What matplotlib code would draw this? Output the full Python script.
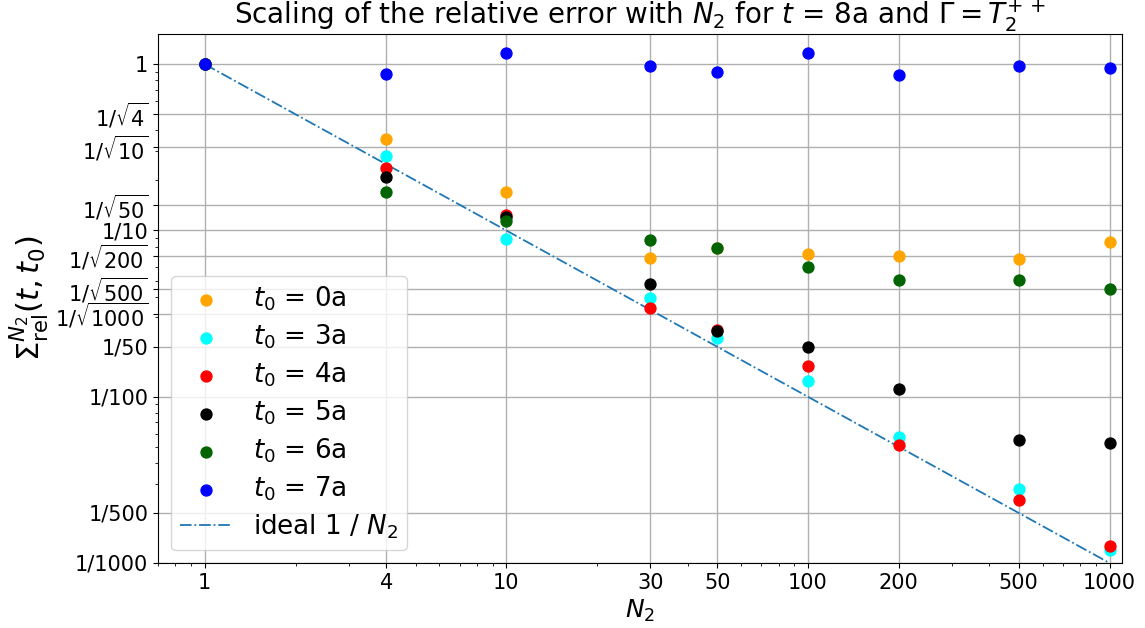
import numpy as np
import matplotlib
matplotlib.use("Agg")
import matplotlib.pyplot as plt
from matplotlib.ticker import FixedLocator, FixedFormatter, NullFormatter

# Data
N2 = [1, 4, 10, 30, 50, 100, 200, 500, 1000]
err_t0_0 = [1.0, 0.354, 0.170, 0.0685, 0.078, 0.0724, 0.0701, 0.0670, 0.0855]
err_t0_3 = [1.0, 0.279, 0.0888, 0.0393, 0.0227, 0.0125, 0.0057, 0.0028, 0.00120]
err_t0_4 = [1.0, 0.238, 0.1238, 0.0340, 0.0252, 0.0153, 0.00515, 0.0024, 0.00126]
err_t0_5 = [1.0, 0.209, 0.121, 0.0474, 0.0248, 0.02005, 0.0112, 0.00547, 0.0053]
err_t0_6 = [1.0, 0.171, 0.1144, 0.0871, 0.078, 0.0602, 0.0505, 0.0505, 0.0442]
err_t0_7 = [1.0, 0.874, 1.165, 0.977, 0.899, 1.165, 0.866, 0.977, 0.954]

series = [
    ("$t_0$ = 0a", err_t0_0, "orange"),
    ("$t_0$ = 3a", err_t0_3, "cyan"),
    ("$t_0$ = 4a", err_t0_4, "red"),
    ("$t_0$ = 5a", err_t0_5, "black"),
    ("$t_0$ = 6a", err_t0_6, "darkgreen"),
    ("$t_0$ = 7a", err_t0_7, "blue"),
]

x_ticks = [1, 4, 10, 30, 50, 100, 200, 500, 1000]
x_labels = ["1", "4", "10", "30", "50", "100", "200", "500", "1000"]
y_ticks = [1, 1/np.sqrt(4), 1/np.sqrt(10), 1/np.sqrt(50), 1/10, 1/np.sqrt(200),
           1/np.sqrt(500), 1/np.sqrt(1000), 1/50, 1/100, 1/500, 1/1000]
y_labels = ["1", r"$1/\sqrt{4}$", r"$1/\sqrt{10}$", r"$1/\sqrt{50}$", "1/10",
            r"$1/\sqrt{200}$", r"$1/\sqrt{500}$", r"$1/\sqrt{1000}$",
            "1/50", "1/100", "1/500", "1/1000"]

fig = plt.figure(figsize=(11.45, 6.28), dpi=100)
ax = fig.add_axes([158/1145, 1 - 563/628, (1122-158)/1145, (563-34)/628])

for lab, vals, col in series:
    ax.scatter(N2, vals, s=62, color=col, label=lab, zorder=3)

ideal = [1.0 / n for n in N2]
ax.plot(N2, ideal, linestyle="-.", color="#1f77b4", linewidth=1.3,
        label="ideal 1 / $N_2$", zorder=2)

ax.set_xscale("log")
ax.set_yscale("log")
ax.set_xlim(0.7, 1100)
ax.set_ylim(1/1000, 1.52)

ax.xaxis.set_major_locator(FixedLocator(x_ticks))
ax.xaxis.set_major_formatter(FixedFormatter(x_labels))
ax.xaxis.set_minor_formatter(NullFormatter())
ax.yaxis.set_major_locator(FixedLocator(y_ticks))
ax.yaxis.set_major_formatter(FixedFormatter(y_labels))
ax.yaxis.set_minor_formatter(NullFormatter())
ax.tick_params(axis="both", which="major", labelsize=15)

ax.grid(True, which="major", color="#b0b0b0", linewidth=1.0)
ax.set_axisbelow(True)

ax.set_title(r"Scaling of the relative error with $N_2$ for $t$ = 8a and $\Gamma = T_2^{+\,+}$",
             fontsize=20)
ax.set_xlabel("$N_2$", fontsize=18, labelpad=4)
ax.set_ylabel(r"$\Sigma^{N_2}_{\mathrm{rel}}(t, t_0)$", fontsize=22, labelpad=2)

ax.legend(loc="lower left", fontsize=18.8, labelspacing=0.36, borderpad=0.35)

fig.savefig("out.png", dpi=100)
